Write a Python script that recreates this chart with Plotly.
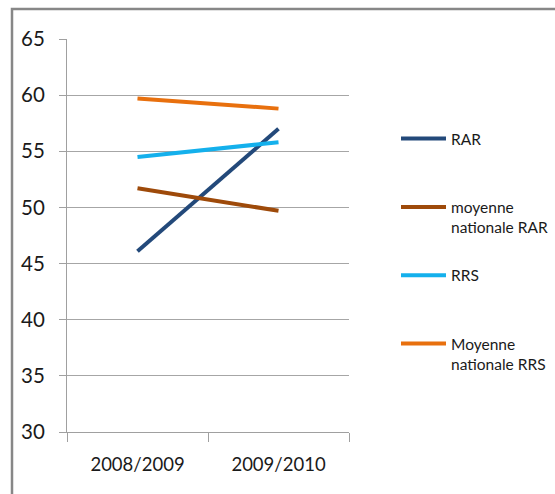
import plotly.graph_objects as go

categories = ["2008/2009", "2009/2010"]
rar = [46.1, 57.0]
moy_rar = [51.7, 49.7]
rrs = [54.5, 55.8]
moy_rrs = [59.7, 58.8]
y_ticks = [30, 35, 40, 45, 50, 55, 60, 65]

series = [
    ("RAR<br>&nbsp;", rar, "#23497A"),
    ("moyenne<br>nationale RAR", moy_rar, "#9E4A0A"),
    ("RRS<br>&nbsp;", rrs, "#14B0EC"),
    ("Moyenne<br>nationale RRS", moy_rrs, "#E8700E"),
]

FONT = "Lato, Liberation Sans, sans-serif"

fig = go.Figure()
for i, (name, vals, col) in enumerate(series):
    fig.add_trace(go.Scatter(
        x=categories, y=vals, mode="lines", name=name,
        line=dict(color=col, width=4), legendgroup=str(i),
    ))

L, R, T, B = 67, 206, 39, 62
W, H = 555, 494
pw, ph = W - L - R, H - T - B

def px_x(p):
    return (p - L) / pw

def px_y(p):
    return (H - B - p) / ph

fig.add_shape(type="rect", xref="paper", yref="paper",
              x0=px_x(12), x1=px_x(W + 10), y0=px_y(H + 10), y1=px_y(9),
              line=dict(color="#878787", width=2.5), fillcolor="rgba(0,0,0,0)", layer="below")

fig.update_layout(
    width=W, height=H,
    margin=dict(l=L, r=R, t=T, b=B, autoexpand=False),
    paper_bgcolor="white", plot_bgcolor="white",
    font=dict(family=FONT, color="#262626"),
    showlegend=True,
    legend=dict(
        x=px_x(396), y=px_y(122), xanchor="left", yanchor="top",
        font=dict(family=FONT, size=15.5, color="#1a1a1a"),
        tracegroupgap=25, valign="top", itemwidth=45,
        bgcolor="rgba(0,0,0,0)",
    ),
    xaxis=dict(
        type="category", range=[-0.5, 1.5], tickson="boundaries",
        ticks="outside", ticklen=9, tickcolor="#a0a0a0",
        showline=True, linecolor="#a0a0a0", linewidth=1,
        showgrid=False, zeroline=False,
        tickfont=dict(family=FONT, size=18.5, color="#1a1a1a"),
        ticklabelstandoff=16,
    ),
    yaxis=dict(
        range=[30, 65], tickvals=y_ticks, ticktext=[str(v) for v in y_ticks],
        ticks="outside", ticklen=7, tickcolor="#a0a0a0",
        showline=True, linecolor="#a0a0a0", linewidth=1,
        showgrid=True, gridcolor="#a6a6a6", gridwidth=1,
        zeroline=False,
        tickfont=dict(family=FONT, size=20.5, color="#1a1a1a"),
        ticklabelstandoff=10,
    ),
)

fig.write_html("out.html", config={"displayModeBar": False},
               post_script="document.body.style.margin='0';")
